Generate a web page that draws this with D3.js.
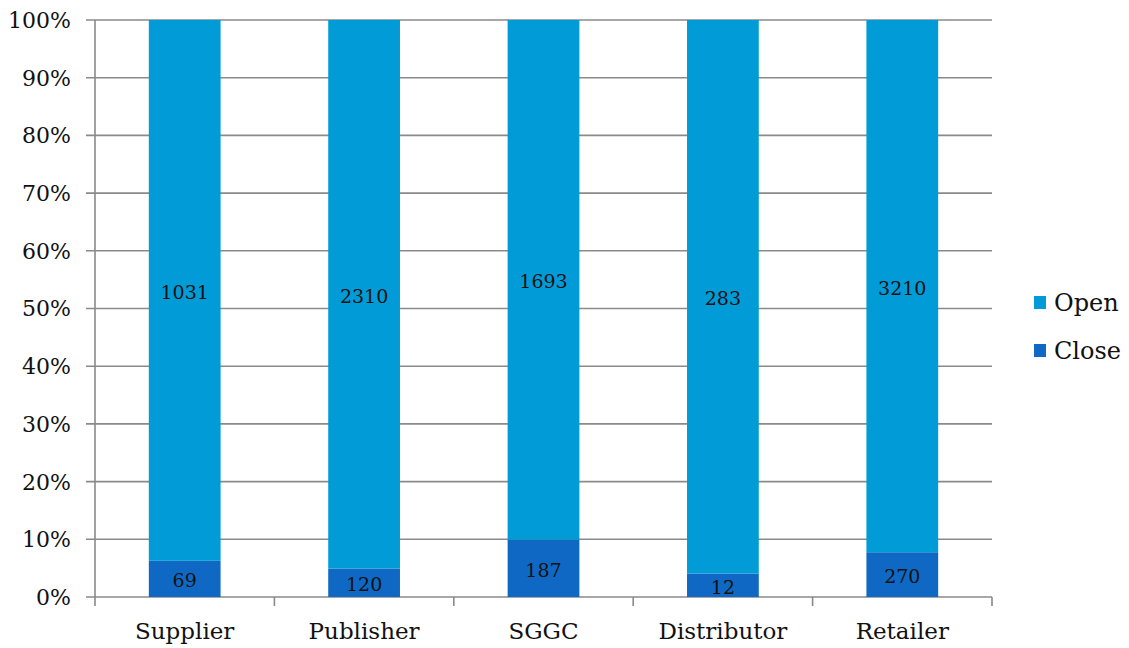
<!DOCTYPE html>
<html>
<head>
<meta charset="utf-8">
<script src="https://cdn.jsdelivr.net/npm/d3@7"></script>
<style>
  html, body { margin: 0; padding: 0; background: #fff; }
  svg text { font-family: "DejaVu Serif", "Liberation Serif", serif; fill: #111; }
</style>
</head>
<body>
<svg id="chart" width="1129" height="648"></svg>
<script>
// Stacked 100% bars: closed vs open counts per supply-chain role
const categories = ["Supplier", "Publisher", "SGGC", "Distributor", "Retailer"];
const closeCounts = [69, 120, 187, 12, 270];
const openCounts = [1031, 2310, 1693, 283, 3210];
const seriesNames = ["Open", "Close"];
const yTicks = [0, 0.1, 0.2, 0.3, 0.4, 0.5, 0.6, 0.7, 0.8, 0.9, 1];

const colors = { Open: "#019cd8", Close: "#0f69c4" };

const svg = d3.select("#chart");
const margin = { left: 95, right: 137, top: 20, bottom: 51 };
const W = 1129, H = 648;
const plotW = W - margin.left - margin.right;
const plotH = H - margin.top - margin.bottom;

const g = svg.append("g").attr("transform", `translate(${margin.left},${margin.top})`);

const x = d3.scaleBand().domain(categories).range([0, plotW]).paddingInner(0.6).paddingOuter(0.3);
const y = d3.scaleLinear().domain([0, 1]).range([plotH, 0]);

// rows with shares
const rows = categories.map((c, i) => {
  const total = closeCounts[i] + openCounts[i];
  return { cat: c, Close: closeCounts[i], Open: openCounts[i], total };
});
const stack = d3.stack().keys(["Close", "Open"]).value((d, k) => d[k] / d.total);
const layers = stack(rows);

// horizontal gridlines with left ticks
g.append("g").selectAll("line").data(yTicks).join("line")
  .attr("x1", -9).attr("x2", plotW)
  .attr("y1", d => y(d)).attr("y2", d => y(d))
  .attr("stroke", "#8a8a8a").attr("stroke-width", 1.6);

// bars
layers.forEach(layer => {
  g.append("g").selectAll("rect").data(layer).join("rect")
    .attr("x", d => x(d.data.cat))
    .attr("width", x.bandwidth())
    .attr("y", d => y(d[1]))
    .attr("height", d => y(d[0]) - y(d[1]))
    .attr("fill", colors[layer.key]);
});

// y axis line
g.append("line").attr("x1", 0).attr("x2", 0).attr("y1", 0).attr("y2", plotH + 9)
  .attr("stroke", "#8a8a8a").attr("stroke-width", 1.6);

// category boundary ticks along the bottom
const bounds = d3.range(1, categories.length + 1).map(i => i * plotW / categories.length);
g.append("g").selectAll("line").data(bounds).join("line")
  .attr("x1", d => d).attr("x2", d => d)
  .attr("y1", plotH).attr("y2", plotH + 9)
  .attr("stroke", "#8a8a8a").attr("stroke-width", 1.6);

// y tick labels
g.append("g").selectAll("text").data(yTicks).join("text")
  .attr("x", -24).attr("y", d => y(d))
  .attr("dy", "0.36em")
  .attr("text-anchor", "end")
  .attr("font-size", 22)
  .text(d => d3.format(".0%")(d));

// category labels
g.append("g").selectAll("text").data(categories).join("text")
  .attr("x", d => x(d) + x.bandwidth() / 2)
  .attr("y", plotH + 42)
  .attr("text-anchor", "middle")
  .attr("font-size", 23)
  .text(d => d);

// value labels centred in each segment
layers.forEach(layer => {
  g.append("g").selectAll("text").data(layer).join("text")
    .attr("x", d => x(d.data.cat) + x.bandwidth() / 2)
    .attr("y", d => (y(d[0]) + y(d[1])) / 2)
    .attr("dy", "0.45em")
    .attr("text-anchor", "middle")
    .attr("font-size", 19)
    .text(d => d.data[layer.key]);
});

// legend
const legend = svg.append("g").attr("transform", "translate(1034,296)");
seriesNames.forEach((name, i) => {
  const row = legend.append("g").attr("transform", `translate(0,${i * 48})`);
  row.append("rect").attr("width", 12).attr("height", 13).attr("fill", colors[name]);
  row.append("text").attr("x", 20).attr("y", 6.5).attr("dy", "0.36em")
    .attr("font-size", 24).text(name);
});
</script>
</body>
</html>
